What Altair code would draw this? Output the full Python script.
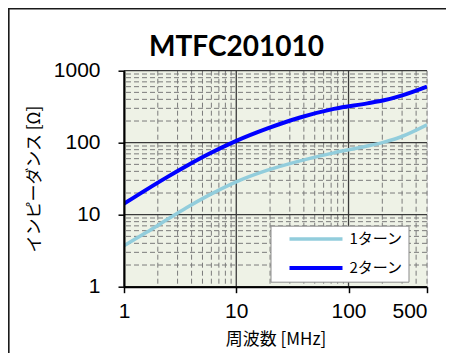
import altair as alt
import pandas as pd

# ---- data ----
freq = [1, 1.6, 2.4, 3.6, 5.5, 10, 19, 37, 74, 147, 207, 291, 500]
turn1 = [3.7, 5.73, 8.49, 12.5, 18.1, 28.6, 41.5, 56.0, 72.3, 89.9, 101.9, 120, 177]
turn2 = [14.2, 22.5, 33.0, 47.5, 67.9, 106, 158, 224, 295, 352, 388, 448, 603]
series = ["1ターン", "2ターン"]
colors = ["#92CDDC", "#0000FF"]
widths = [3.5, 4.0]
x_ticks = [1, 10, 100, 500]
y_ticks = [1, 10, 100, 1000]
x_grid = [m * 10 ** k for k in range(3) for m in range(1, 10) if m * 10 ** k <= 500]
y_grid = [m * 10 ** k for k in range(3) for m in range(1, 10)] + [1000]

rows = []
for name, vals in zip(series, [turn1, turn2]):
    for f, v in zip(freq, vals):
        rows.append({"f": f, "z": v, "s": name})
df = pd.DataFrame(rows)

def is_major(v):
    return v in (1, 10, 100, 1000)

xg = pd.DataFrame({"f": x_grid, "major": [is_major(v) for v in x_grid]})
yg = pd.DataFrame({"z": y_grid, "major": [is_major(v) for v in y_grid]})

W, H = 303, 216
xs = alt.Scale(type="log", domain=[1, 500], nice=False)
ys = alt.Scale(type="log", domain=[1, 1000], nice=False)

JP = "Noto Sans CJK JP"
NUM = "Liberation Sans"

xaxis = alt.Axis(
    values=x_ticks, format="d", title="周波数 [MHz]", grid=False, zindex=1,
    labelFlush=False, labelOverlap=False,
    labelAlign={"condition": {"test": "datum.value >= 500", "value": "right"}, "value": "center"},
    labelBaseline="middle", labelPadding=19,
    labelFont=NUM, labelFontSize=21, labelColor="black",
    domainColor="black", domainWidth=2, tickColor="black", tickSize=6, tickWidth=1.5,
    titleFont=JP, titleFontSize=17, titleFontWeight="normal", titleColor="black",
    titleX=W / 2, titleY=53, titleBaseline="middle", titleAlign="center",
)
yaxis = alt.Axis(
    values=y_ticks, format="d", title="インピーダンス [Ω]", grid=False, zindex=1,
    labelFlush=False, labelOverlap=False,
    labelBaseline="middle", labelPadding=18,
    labelFont=NUM, labelFontSize=21, labelColor="black",
    domainColor="black", domainWidth=2, tickColor="black", tickSize=6, tickWidth=1.5,
    titleFont=JP, titleFontSize=17, titleFontWeight="normal", titleColor="black",
    titleX=-90, titleY=H / 2, titleBaseline="middle", titleAlign="center", titleAngle=270,
)

frame = alt.Chart(alt.Data(values=[{}])).mark_rect(
    fill=None, fillOpacity=0, stroke="#1a1a1a", strokeWidth=1.6
).encode(
    x=alt.value(-115.2), x2=alt.value(400),
    y=alt.value(-61.9), y2=alt.value(400),
)

plotbg = alt.Chart(alt.Data(values=[{}])).mark_rect(fill="#EEF2E6").encode(
    x=alt.value(0), x2=alt.value(W), y=alt.value(0), y2=alt.value(H)
)

xgrid_minor = alt.Chart(xg[~xg.major]).mark_rule(color="#7a7a7a", strokeWidth=1, strokeDash=[5, 3]).encode(
    x=alt.X("f:Q", scale=xs, axis=xaxis)
)
ygrid_minor = alt.Chart(yg[~yg.major]).mark_rule(color="#7a7a7a", strokeWidth=1, strokeDash=[5, 3]).encode(
    y=alt.Y("z:Q", scale=ys, axis=yaxis)
)
xgrid_major = alt.Chart(xg[xg.major]).mark_rule(color="#3a3a3a", strokeWidth=1.3).encode(
    x=alt.X("f:Q", scale=xs, axis=xaxis)
)
ygrid_major = alt.Chart(yg[yg.major]).mark_rule(color="#3a3a3a", strokeWidth=1.3).encode(
    y=alt.Y("z:Q", scale=ys, axis=yaxis)
)

lines = alt.Chart(df).mark_line(interpolate="monotone", clip=True).encode(
    x=alt.X("f:Q", scale=xs, axis=xaxis),
    y=alt.Y("z:Q", scale=ys, axis=yaxis),
    color=alt.Color("s:N", scale=alt.Scale(domain=series, range=colors), legend=alt.Legend(
        title=None, orient="none", legendX=146.5, legendY=155,
        fillColor="white", strokeColor="#8C8C8C",
        symbolType="stroke", symbolSize=2809, symbolStrokeWidth=4,
        labelFont=JP, labelFontSize=15, labelColor="black",
        labelExpr="datum.label + '\u2003\u2002\u2009'",
        padding=5.3, symbolOffset=11.7, labelOffset=5, rowPadding=13, clipHeight=16,
    )),
    strokeWidth=alt.StrokeWidth("s:N", scale=alt.Scale(domain=series, range=widths), legend=None),
)

chart = alt.layer(
    frame, plotbg, xgrid_minor, ygrid_minor, xgrid_major, ygrid_major, lines
).properties(
    width=W, height=H,
    title=alt.TitleParams("MTFC201010", font="Lato", fontSize=28, fontWeight="bold",
                          color="black", anchor="middle", frame="group", dx=-39,
                          baseline="alphabetic", offset=-76),
    autosize=alt.AutoSizeParams(type="none"),
    padding={"left": 116, "top": 62.7, "right": 19, "bottom": 66},
).configure_view(
    fill=None, stroke="#333333", strokeWidth=1.5
).configure_legend(
    strokeWidth=2
).configure(background="white")

chart.save("out.html", embed_options={"renderer": "svg", "actions": False})
